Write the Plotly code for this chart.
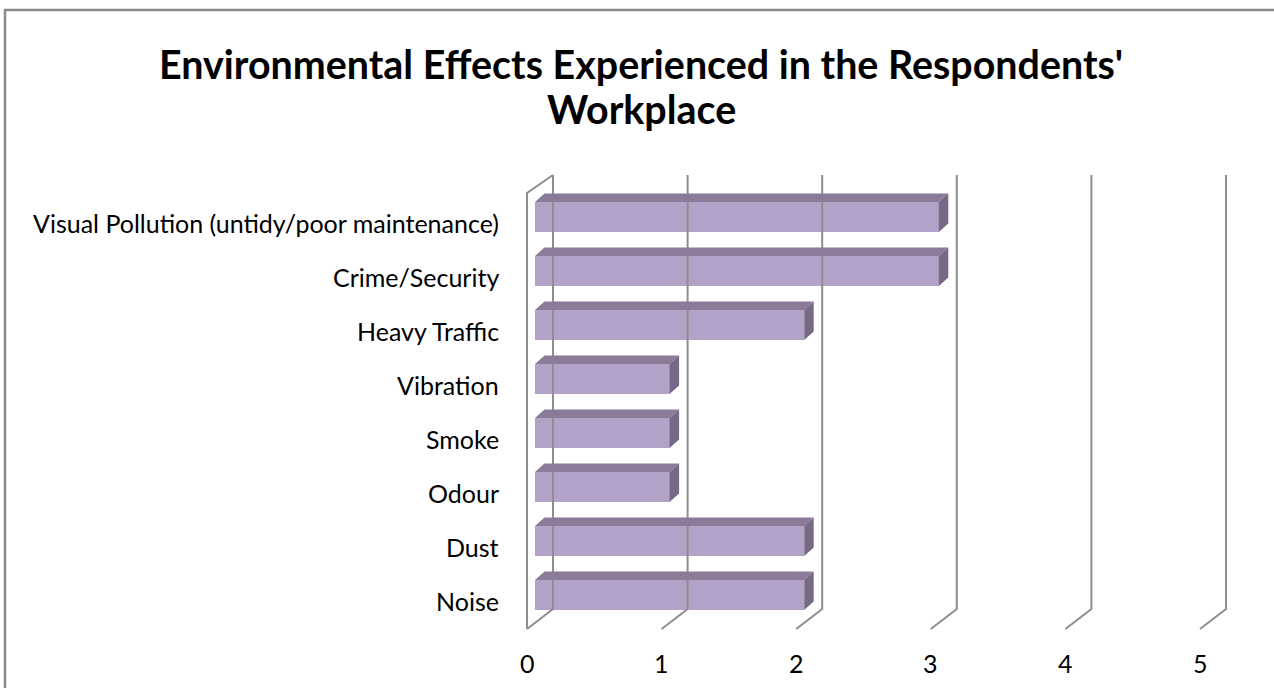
import plotly.graph_objects as go

# ---- data ----
categories = ["Noise", "Dust", "Odour", "Smoke", "Vibration", "Heavy Traffic",
              "Crime/Security", "Visual Pollution (untidy/poor maintenance)"]
values = [2, 2, 1, 1, 1, 2, 3, 3]
x_ticks = [0, 1, 2, 3, 4, 5]
title_lines = ["Environmental Effects Experienced in the Respondents'", "Workplace"]

# ---- geometry / style (pixel calibration for a 1274x688 canvas) ----
W, H = 1274, 688
PX_PER_UNIT = 134.6      # horizontal pixels per value unit
X0_PX = 535              # pixel of value 0 on the bar front plane
ROW_PX = 54              # vertical pixels per category
Y0_PX = 601              # pixel of first category label row

front_dx = (527 - X0_PX) / PX_PER_UNIT     # floor front edge offset
back_dx = (553 - X0_PX) / PX_PER_UNIT      # back wall offset
y_front_bot = (Y0_PX - 629) / ROW_PX
y_back_bot = (Y0_PX - 609) / ROW_PX
y_back_top = (Y0_PX - 175) / ROW_PX
y_front_top = (Y0_PX - 193) / ROW_PX

bar_shift = 6 / ROW_PX
bar_w = 30 / ROW_PX
depth_dx = 9.5 / PX_PER_UNIT
depth_dy = 8.5 / ROW_PX

FRONT = "#B3A2C7"
TOP = "#8B7B98"
SIDE = "#766985"
GRID = "#8E8E8E"
FONT = "Lato"

fig = go.Figure()

# walls / gridlines
gx, gy = [], []
for k in x_ticks:
    gx += [k + back_dx, k + back_dx, k + front_dx, None]
    gy += [y_back_top, y_back_bot, y_front_bot, None]
gx += [back_dx, front_dx, front_dx, None]
gy += [y_back_top, y_front_top, y_front_bot, None]
fig.add_trace(go.Scatter(x=gx, y=gy, mode="lines",
                         line=dict(color=GRID, width=2), hoverinfo="skip",
                         showlegend=False))

# bar front faces
ys = [i + bar_shift for i in range(len(categories))]
fig.add_trace(go.Bar(x=values, y=ys, orientation="h", width=bar_w,
                     marker=dict(color=FRONT, line=dict(width=0)),
                     showlegend=False, hovertext=categories))

# top and side faces
tx, ty, sx, sy = [], [], [], []
for yc, v in zip(ys, values):
    yt = yc + bar_w / 2
    yb = yc - bar_w / 2
    tx += [0, v, v + depth_dx, depth_dx, 0, None]
    ty += [yt, yt, yt + depth_dy, yt + depth_dy, yt, None]
    sx += [v, v, v + depth_dx, v + depth_dx, v, None]
    sy += [yb, yt, yt + depth_dy, yb + depth_dy, yb, None]
fig.add_trace(go.Scatter(x=tx, y=ty, mode="lines", fill="toself",
                         fillcolor=TOP, line=dict(width=0, color=TOP),
                         hoverinfo="skip", showlegend=False))
fig.add_trace(go.Scatter(x=sx, y=sy, mode="lines", fill="toself",
                         fillcolor=SIDE, line=dict(width=0, color=SIDE),
                         hoverinfo="skip", showlegend=False))

# category labels
for i, c in enumerate(categories):
    fig.add_annotation(x=(501 - X0_PX) / PX_PER_UNIT, y=i, text=c,
                       xanchor="right", yanchor="middle", showarrow=False,
                       font=dict(family=FONT, size=25, color="#000000"))

# value tick labels
for k in x_ticks:
    fig.add_annotation(x=k + front_dx, y=(Y0_PX - 663) / ROW_PX, text=str(k),
                       xanchor="center", yanchor="middle", showarrow=False,
                       font=dict(family=FONT, size=25, color="#000000"))

# title (two lines)
for line, ypx in zip(title_lines, [64, 109]):
    fig.add_annotation(x=641 / W, y=1 - ypx / H, xref="paper", yref="paper",
                       text="<b>" + line + "</b>", showarrow=False,
                       xanchor="center", yanchor="middle",
                       font=dict(family=FONT, size=39.4, color="#000000"))

# chart border
fig.add_shape(type="rect", xref="paper", yref="paper",
              x0=5 / W, x1=1.05, y0=-0.05, y1=1 - 10 / H,
              line=dict(color="#8A8A8A", width=2.5), fillcolor="rgba(0,0,0,0)")

fig.update_layout(
    width=W, height=H,
    margin=dict(l=0, r=0, t=0, b=0),
    paper_bgcolor="white", plot_bgcolor="white",
    xaxis=dict(range=[-X0_PX / PX_PER_UNIT, (W - X0_PX) / PX_PER_UNIT],
               visible=False, fixedrange=True),
    yaxis=dict(range=[(Y0_PX - H) / ROW_PX, Y0_PX / ROW_PX],
               visible=False, fixedrange=True),
    bargap=0,
)

fig.write_html("out.html",
               config={"displayModeBar": False},
               post_script="document.body.style.margin='0';"
                           "document.body.style.padding='0';"
                           "document.body.style.overflow='hidden';")
